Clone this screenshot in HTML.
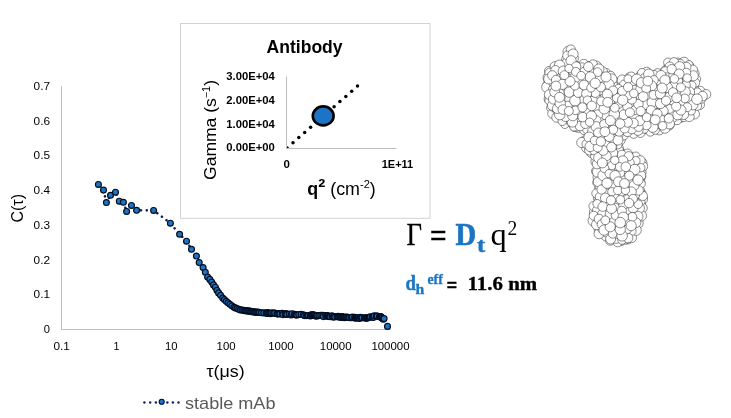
<!DOCTYPE html>
<html lang="en"><head><meta charset="utf-8"><title>DLS antibody figure</title>
<style>
html,body{margin:0;padding:0;background:#fff;}
body{width:731px;height:418px;overflow:hidden;font-family:"Liberation Sans", "DejaVu Sans", sans-serif;}
svg{display:block;will-change:transform;}
text{white-space:pre;}
</style></head><body>
<svg width="731" height="418" viewBox="0 0 731 418">
<rect width="731" height="418" fill="#fff"/>
<line x1="61.5" y1="86.4" x2="61.5" y2="329.5" stroke="#bfbfbf" stroke-width="1"/>
<line x1="61.0" y1="329.5" x2="390.5" y2="329.5" stroke="#bfbfbf" stroke-width="1"/>
<text x="50" y="333.2" font-size="10.9" text-anchor="end" font-weight="normal" fill="#000" font-family='"Liberation Sans", "DejaVu Sans", sans-serif' textLength="6.2" lengthAdjust="spacingAndGlyphs" >0</text>
<text x="50" y="298.4" font-size="10.9" text-anchor="end" font-weight="normal" fill="#000" font-family='"Liberation Sans", "DejaVu Sans", sans-serif' textLength="16.4" lengthAdjust="spacingAndGlyphs" >0.1</text>
<text x="50" y="263.7" font-size="10.9" text-anchor="end" font-weight="normal" fill="#000" font-family='"Liberation Sans", "DejaVu Sans", sans-serif' textLength="16.4" lengthAdjust="spacingAndGlyphs" >0.2</text>
<text x="50" y="228.9" font-size="10.9" text-anchor="end" font-weight="normal" fill="#000" font-family='"Liberation Sans", "DejaVu Sans", sans-serif' textLength="16.4" lengthAdjust="spacingAndGlyphs" >0.3</text>
<text x="50" y="194.2" font-size="10.9" text-anchor="end" font-weight="normal" fill="#000" font-family='"Liberation Sans", "DejaVu Sans", sans-serif' textLength="16.4" lengthAdjust="spacingAndGlyphs" >0.4</text>
<text x="50" y="159.4" font-size="10.9" text-anchor="end" font-weight="normal" fill="#000" font-family='"Liberation Sans", "DejaVu Sans", sans-serif' textLength="16.4" lengthAdjust="spacingAndGlyphs" >0.5</text>
<text x="50" y="124.7" font-size="10.9" text-anchor="end" font-weight="normal" fill="#000" font-family='"Liberation Sans", "DejaVu Sans", sans-serif' textLength="16.4" lengthAdjust="spacingAndGlyphs" >0.6</text>
<text x="50" y="90.0" font-size="10.9" text-anchor="end" font-weight="normal" fill="#000" font-family='"Liberation Sans", "DejaVu Sans", sans-serif' textLength="16.4" lengthAdjust="spacingAndGlyphs" >0.7</text>
<text x="61.7" y="350" font-size="10.6" text-anchor="middle" font-weight="normal" fill="#000" font-family='"Liberation Sans", "DejaVu Sans", sans-serif' textLength="16.4" lengthAdjust="spacingAndGlyphs" >0.1</text>
<text x="116.5" y="350" font-size="10.6" text-anchor="middle" font-weight="normal" fill="#000" font-family='"Liberation Sans", "DejaVu Sans", sans-serif' textLength="6" lengthAdjust="spacingAndGlyphs" >1</text>
<text x="171.3" y="350" font-size="10.6" text-anchor="middle" font-weight="normal" fill="#000" font-family='"Liberation Sans", "DejaVu Sans", sans-serif' textLength="12.6" lengthAdjust="spacingAndGlyphs" >10</text>
<text x="226.1" y="350" font-size="10.6" text-anchor="middle" font-weight="normal" fill="#000" font-family='"Liberation Sans", "DejaVu Sans", sans-serif' textLength="19" lengthAdjust="spacingAndGlyphs" >100</text>
<text x="280.9" y="350" font-size="10.6" text-anchor="middle" font-weight="normal" fill="#000" font-family='"Liberation Sans", "DejaVu Sans", sans-serif' textLength="25.4" lengthAdjust="spacingAndGlyphs" >1000</text>
<text x="335.7" y="350" font-size="10.6" text-anchor="middle" font-weight="normal" fill="#000" font-family='"Liberation Sans", "DejaVu Sans", sans-serif' textLength="31.8" lengthAdjust="spacingAndGlyphs" >10000</text>
<text x="390.5" y="350" font-size="10.6" text-anchor="middle" font-weight="normal" fill="#000" font-family='"Liberation Sans", "DejaVu Sans", sans-serif' textLength="38.2" lengthAdjust="spacingAndGlyphs" >100000</text>
<g transform="translate(23.3,222.6) rotate(-90)">
<text x="0" y="0" font-size="17.4" text-anchor="start" font-weight="normal" fill="#000" font-family='"Liberation Sans", "DejaVu Sans", sans-serif' textLength="28.6" lengthAdjust="spacingAndGlyphs" >C(τ)</text>
</g>
<text x="225.6" y="377.2" font-size="17" text-anchor="middle" font-weight="normal" fill="#000" font-family='"Liberation Sans", "DejaVu Sans", sans-serif' textLength="38.2" lengthAdjust="spacingAndGlyphs" >τ(μs)</text>
<path d="M98.4 184.4 L103.5 190.1 L106.4 202.5 L110.5 195.3 L115.5 192.2 L119.3 201.2 L123.4 202.3 L126.6 211.4 L131.5 205.4 L136.6 210.3 L153.6 210.4 L170.4 223.2 L179.6 234.3 L186.5 241.2 L191.5 249.3 L196.4 256 L199.2 262.6 L203.1 267.6 L205.3 272.3 L207.6 277 L209.8 279.4 L211.7 282.0" fill="none" stroke="#0a2266" stroke-width="2.6" stroke-linecap="round" stroke-dasharray="0.01 5.75" stroke-dashoffset="3.2"/>
<circle cx="98.4" cy="184.4" r="2.95" fill="#1b75c4" stroke="#040c1e" stroke-width="1.15"/>
<circle cx="103.5" cy="190.1" r="2.95" fill="#1b75c4" stroke="#040c1e" stroke-width="1.15"/>
<circle cx="106.4" cy="202.5" r="2.95" fill="#1b75c4" stroke="#040c1e" stroke-width="1.15"/>
<circle cx="110.5" cy="195.3" r="2.95" fill="#1b75c4" stroke="#040c1e" stroke-width="1.15"/>
<circle cx="115.5" cy="192.2" r="2.95" fill="#1b75c4" stroke="#040c1e" stroke-width="1.15"/>
<circle cx="119.3" cy="201.2" r="2.95" fill="#1b75c4" stroke="#040c1e" stroke-width="1.15"/>
<circle cx="123.4" cy="202.3" r="2.95" fill="#1b75c4" stroke="#040c1e" stroke-width="1.15"/>
<circle cx="126.6" cy="211.4" r="2.95" fill="#1b75c4" stroke="#040c1e" stroke-width="1.15"/>
<circle cx="131.5" cy="205.4" r="2.95" fill="#1b75c4" stroke="#040c1e" stroke-width="1.15"/>
<circle cx="136.6" cy="210.3" r="2.95" fill="#1b75c4" stroke="#040c1e" stroke-width="1.15"/>
<circle cx="153.6" cy="210.4" r="2.95" fill="#1b75c4" stroke="#040c1e" stroke-width="1.15"/>
<circle cx="170.4" cy="223.2" r="2.95" fill="#1b75c4" stroke="#040c1e" stroke-width="1.15"/>
<circle cx="179.6" cy="234.3" r="2.95" fill="#1b75c4" stroke="#040c1e" stroke-width="1.15"/>
<circle cx="186.5" cy="241.2" r="2.95" fill="#1b75c4" stroke="#040c1e" stroke-width="1.15"/>
<circle cx="191.5" cy="249.3" r="2.95" fill="#1b75c4" stroke="#040c1e" stroke-width="1.15"/>
<circle cx="196.4" cy="256" r="2.95" fill="#1b75c4" stroke="#040c1e" stroke-width="1.15"/>
<circle cx="199.2" cy="262.6" r="2.95" fill="#1b75c4" stroke="#040c1e" stroke-width="1.15"/>
<circle cx="203.1" cy="267.6" r="2.95" fill="#1b75c4" stroke="#040c1e" stroke-width="1.15"/>
<circle cx="205.3" cy="272.3" r="2.95" fill="#1b75c4" stroke="#040c1e" stroke-width="1.15"/>
<circle cx="207.6" cy="277" r="2.95" fill="#1b75c4" stroke="#040c1e" stroke-width="1.15"/>
<circle cx="209.8" cy="279.4" r="2.95" fill="#1b75c4" stroke="#040c1e" stroke-width="1.15"/>
<circle cx="211.7" cy="282.0" r="2.95" fill="#1b75c4" stroke="#040c1e" stroke-width="1.15"/>
<circle cx="213.5" cy="284.9" r="2.95" fill="#1b75c4" stroke="#040c1e" stroke-width="1.15"/>
<circle cx="215.4" cy="287.2" r="2.95" fill="#1b75c4" stroke="#040c1e" stroke-width="1.15"/>
<circle cx="216.9" cy="290.3" r="2.95" fill="#1b75c4" stroke="#040c1e" stroke-width="1.15"/>
<circle cx="218.6" cy="292.9" r="2.95" fill="#1b75c4" stroke="#040c1e" stroke-width="1.15"/>
<circle cx="220.6" cy="295.3" r="2.95" fill="#1b75c4" stroke="#040c1e" stroke-width="1.15"/>
<circle cx="222.7" cy="298.0" r="2.95" fill="#1b75c4" stroke="#040c1e" stroke-width="1.15"/>
<circle cx="224.4" cy="299.5" r="2.95" fill="#1b75c4" stroke="#040c1e" stroke-width="1.15"/>
<circle cx="226.2" cy="301.3" r="2.95" fill="#1b75c4" stroke="#040c1e" stroke-width="1.15"/>
<circle cx="228.0" cy="302.8" r="2.95" fill="#1b75c4" stroke="#040c1e" stroke-width="1.15"/>
<circle cx="229.9" cy="304.3" r="2.95" fill="#1b75c4" stroke="#040c1e" stroke-width="1.15"/>
<circle cx="231.9" cy="305.8" r="2.95" fill="#1b75c4" stroke="#040c1e" stroke-width="1.15"/>
<circle cx="234.0" cy="307.3" r="2.95" fill="#1b75c4" stroke="#040c1e" stroke-width="1.15"/>
<circle cx="235.4" cy="307.9" r="2.95" fill="#1b75c4" stroke="#040c1e" stroke-width="1.15"/>
<circle cx="237.0" cy="308.5" r="2.95" fill="#1b75c4" stroke="#040c1e" stroke-width="1.15"/>
<circle cx="238.7" cy="309.2" r="2.95" fill="#1b75c4" stroke="#040c1e" stroke-width="1.15"/>
<circle cx="240.3" cy="309.9" r="2.95" fill="#1b75c4" stroke="#040c1e" stroke-width="1.15"/>
<circle cx="242.0" cy="310.1" r="2.95" fill="#1b75c4" stroke="#040c1e" stroke-width="1.15"/>
<circle cx="243.7" cy="310.3" r="2.95" fill="#1b75c4" stroke="#040c1e" stroke-width="1.15"/>
<circle cx="244.7" cy="310.8" r="2.95" fill="#1b75c4" stroke="#040c1e" stroke-width="1.15"/>
<circle cx="245.7" cy="310.5" r="2.95" fill="#1b75c4" stroke="#040c1e" stroke-width="1.15"/>
<circle cx="246.7" cy="311.0" r="2.95" fill="#1b75c4" stroke="#040c1e" stroke-width="1.15"/>
<circle cx="247.7" cy="310.9" r="2.95" fill="#1b75c4" stroke="#040c1e" stroke-width="1.15"/>
<circle cx="248.7" cy="311.0" r="2.95" fill="#1b75c4" stroke="#040c1e" stroke-width="1.15"/>
<circle cx="249.7" cy="311.1" r="2.95" fill="#1b75c4" stroke="#040c1e" stroke-width="1.15"/>
<circle cx="250.7" cy="311.4" r="2.95" fill="#1b75c4" stroke="#040c1e" stroke-width="1.15"/>
<circle cx="251.7" cy="311.8" r="2.95" fill="#1b75c4" stroke="#040c1e" stroke-width="1.15"/>
<circle cx="252.7" cy="311.6" r="2.95" fill="#1b75c4" stroke="#040c1e" stroke-width="1.15"/>
<circle cx="253.7" cy="311.9" r="2.95" fill="#1b75c4" stroke="#040c1e" stroke-width="1.15"/>
<circle cx="254.7" cy="312.1" r="2.95" fill="#1b75c4" stroke="#040c1e" stroke-width="1.15"/>
<circle cx="255.7" cy="312.1" r="2.95" fill="#1b75c4" stroke="#040c1e" stroke-width="1.15"/>
<circle cx="256.7" cy="312.3" r="2.95" fill="#1b75c4" stroke="#040c1e" stroke-width="1.15"/>
<circle cx="257.7" cy="312.1" r="2.95" fill="#1b75c4" stroke="#040c1e" stroke-width="1.15"/>
<circle cx="258.7" cy="312.2" r="2.95" fill="#1b75c4" stroke="#040c1e" stroke-width="1.15"/>
<circle cx="259.6" cy="312.5" r="2.95" fill="#1b75c4" stroke="#040c1e" stroke-width="1.15"/>
<circle cx="261.5" cy="312.8" r="2.95" fill="#1b75c4" stroke="#040c1e" stroke-width="1.15"/>
<circle cx="263.8" cy="312.9" r="2.95" fill="#1b75c4" stroke="#040c1e" stroke-width="1.15"/>
<circle cx="266.1" cy="312.8" r="2.95" fill="#1b75c4" stroke="#040c1e" stroke-width="1.15"/>
<circle cx="267.0" cy="313.5" r="2.95" fill="#1b75c4" stroke="#040c1e" stroke-width="1.15"/>
<circle cx="267.9" cy="312.6" r="2.95" fill="#1b75c4" stroke="#040c1e" stroke-width="1.15"/>
<circle cx="268.9" cy="313.3" r="2.95" fill="#1b75c4" stroke="#040c1e" stroke-width="1.15"/>
<circle cx="270.0" cy="313.6" r="2.95" fill="#1b75c4" stroke="#040c1e" stroke-width="1.15"/>
<circle cx="271.0" cy="313.6" r="2.95" fill="#1b75c4" stroke="#040c1e" stroke-width="1.15"/>
<circle cx="271.7" cy="312.9" r="2.95" fill="#1b75c4" stroke="#040c1e" stroke-width="1.15"/>
<circle cx="273.6" cy="313.1" r="2.95" fill="#1b75c4" stroke="#040c1e" stroke-width="1.15"/>
<circle cx="274.7" cy="313.1" r="2.95" fill="#1b75c4" stroke="#040c1e" stroke-width="1.15"/>
<circle cx="277.0" cy="313.6" r="2.95" fill="#1b75c4" stroke="#040c1e" stroke-width="1.15"/>
<circle cx="277.7" cy="314.1" r="2.95" fill="#1b75c4" stroke="#040c1e" stroke-width="1.15"/>
<circle cx="278.8" cy="313.5" r="2.95" fill="#1b75c4" stroke="#040c1e" stroke-width="1.15"/>
<circle cx="279.9" cy="313.9" r="2.95" fill="#1b75c4" stroke="#040c1e" stroke-width="1.15"/>
<circle cx="282.2" cy="313.3" r="2.95" fill="#1b75c4" stroke="#040c1e" stroke-width="1.15"/>
<circle cx="282.9" cy="314.6" r="2.95" fill="#1b75c4" stroke="#040c1e" stroke-width="1.15"/>
<circle cx="285.2" cy="314.3" r="2.95" fill="#1b75c4" stroke="#040c1e" stroke-width="1.15"/>
<circle cx="285.9" cy="313.5" r="2.95" fill="#1b75c4" stroke="#040c1e" stroke-width="1.15"/>
<circle cx="286.9" cy="314.4" r="2.95" fill="#1b75c4" stroke="#040c1e" stroke-width="1.15"/>
<circle cx="289.2" cy="314.0" r="2.95" fill="#1b75c4" stroke="#040c1e" stroke-width="1.15"/>
<circle cx="291.1" cy="314.9" r="2.95" fill="#1b75c4" stroke="#040c1e" stroke-width="1.15"/>
<circle cx="292.2" cy="313.7" r="2.95" fill="#1b75c4" stroke="#040c1e" stroke-width="1.15"/>
<circle cx="294.5" cy="314.3" r="2.95" fill="#1b75c4" stroke="#040c1e" stroke-width="1.15"/>
<circle cx="295.2" cy="314.6" r="2.95" fill="#1b75c4" stroke="#040c1e" stroke-width="1.15"/>
<circle cx="296.1" cy="315.0" r="2.95" fill="#1b75c4" stroke="#040c1e" stroke-width="1.15"/>
<circle cx="296.9" cy="315.0" r="2.95" fill="#1b75c4" stroke="#040c1e" stroke-width="1.15"/>
<circle cx="298.8" cy="314.6" r="2.95" fill="#1b75c4" stroke="#040c1e" stroke-width="1.15"/>
<circle cx="301.1" cy="314.3" r="2.95" fill="#1b75c4" stroke="#040c1e" stroke-width="1.15"/>
<circle cx="303.4" cy="314.8" r="2.95" fill="#1b75c4" stroke="#040c1e" stroke-width="1.15"/>
<circle cx="304.4" cy="315.6" r="2.95" fill="#1b75c4" stroke="#040c1e" stroke-width="1.15"/>
<circle cx="306.3" cy="315.6" r="2.95" fill="#1b75c4" stroke="#040c1e" stroke-width="1.15"/>
<circle cx="307.3" cy="315.5" r="2.95" fill="#1b75c4" stroke="#040c1e" stroke-width="1.15"/>
<circle cx="308.4" cy="315.5" r="2.95" fill="#1b75c4" stroke="#040c1e" stroke-width="1.15"/>
<circle cx="310.3" cy="316.0" r="2.95" fill="#1b75c4" stroke="#040c1e" stroke-width="1.15"/>
<circle cx="311.1" cy="314.8" r="2.95" fill="#1b75c4" stroke="#040c1e" stroke-width="1.15"/>
<circle cx="311.9" cy="315.0" r="2.95" fill="#1b75c4" stroke="#040c1e" stroke-width="1.15"/>
<circle cx="312.8" cy="314.8" r="2.95" fill="#1b75c4" stroke="#040c1e" stroke-width="1.15"/>
<circle cx="313.6" cy="315.1" r="2.95" fill="#1b75c4" stroke="#040c1e" stroke-width="1.15"/>
<circle cx="314.2" cy="315.0" r="2.95" fill="#1b75c4" stroke="#040c1e" stroke-width="1.15"/>
<circle cx="315.3" cy="315.7" r="2.95" fill="#1b75c4" stroke="#040c1e" stroke-width="1.15"/>
<circle cx="316.4" cy="316.3" r="2.95" fill="#1b75c4" stroke="#040c1e" stroke-width="1.15"/>
<circle cx="317.0" cy="315.6" r="2.95" fill="#1b75c4" stroke="#040c1e" stroke-width="1.15"/>
<circle cx="318.9" cy="315.6" r="2.95" fill="#1b75c4" stroke="#040c1e" stroke-width="1.15"/>
<circle cx="320.8" cy="315.3" r="2.95" fill="#1b75c4" stroke="#040c1e" stroke-width="1.15"/>
<circle cx="322.7" cy="315.3" r="2.95" fill="#1b75c4" stroke="#040c1e" stroke-width="1.15"/>
<circle cx="323.4" cy="316.6" r="2.95" fill="#1b75c4" stroke="#040c1e" stroke-width="1.15"/>
<circle cx="325.7" cy="315.6" r="2.95" fill="#1b75c4" stroke="#040c1e" stroke-width="1.15"/>
<circle cx="326.8" cy="316.3" r="2.95" fill="#1b75c4" stroke="#040c1e" stroke-width="1.15"/>
<circle cx="327.5" cy="315.5" r="2.95" fill="#1b75c4" stroke="#040c1e" stroke-width="1.15"/>
<circle cx="328.3" cy="316.3" r="2.95" fill="#1b75c4" stroke="#040c1e" stroke-width="1.15"/>
<circle cx="329.4" cy="316.4" r="2.95" fill="#1b75c4" stroke="#040c1e" stroke-width="1.15"/>
<circle cx="330.1" cy="316.8" r="2.95" fill="#1b75c4" stroke="#040c1e" stroke-width="1.15"/>
<circle cx="332.0" cy="315.9" r="2.95" fill="#1b75c4" stroke="#040c1e" stroke-width="1.15"/>
<circle cx="333.0" cy="317.1" r="2.95" fill="#1b75c4" stroke="#040c1e" stroke-width="1.15"/>
<circle cx="334.1" cy="316.5" r="2.95" fill="#1b75c4" stroke="#040c1e" stroke-width="1.15"/>
<circle cx="334.8" cy="317.0" r="2.95" fill="#1b75c4" stroke="#040c1e" stroke-width="1.15"/>
<circle cx="337.1" cy="316.6" r="2.95" fill="#1b75c4" stroke="#040c1e" stroke-width="1.15"/>
<circle cx="338.1" cy="316.2" r="2.95" fill="#1b75c4" stroke="#040c1e" stroke-width="1.15"/>
<circle cx="338.8" cy="317.1" r="2.95" fill="#1b75c4" stroke="#040c1e" stroke-width="1.15"/>
<circle cx="339.8" cy="316.8" r="2.95" fill="#1b75c4" stroke="#040c1e" stroke-width="1.15"/>
<circle cx="340.6" cy="316.9" r="2.95" fill="#1b75c4" stroke="#040c1e" stroke-width="1.15"/>
<circle cx="341.5" cy="317.5" r="2.95" fill="#1b75c4" stroke="#040c1e" stroke-width="1.15"/>
<circle cx="342.6" cy="316.5" r="2.95" fill="#1b75c4" stroke="#040c1e" stroke-width="1.15"/>
<circle cx="343.2" cy="317.4" r="2.95" fill="#1b75c4" stroke="#040c1e" stroke-width="1.15"/>
<circle cx="344.2" cy="317.7" r="2.95" fill="#1b75c4" stroke="#040c1e" stroke-width="1.15"/>
<circle cx="344.9" cy="317.4" r="2.95" fill="#1b75c4" stroke="#040c1e" stroke-width="1.15"/>
<circle cx="345.9" cy="317.2" r="2.95" fill="#1b75c4" stroke="#040c1e" stroke-width="1.15"/>
<circle cx="346.7" cy="317.0" r="2.95" fill="#1b75c4" stroke="#040c1e" stroke-width="1.15"/>
<circle cx="347.6" cy="317.3" r="2.95" fill="#1b75c4" stroke="#040c1e" stroke-width="1.15"/>
<circle cx="348.7" cy="317.5" r="2.95" fill="#1b75c4" stroke="#040c1e" stroke-width="1.15"/>
<circle cx="349.6" cy="317.8" r="2.95" fill="#1b75c4" stroke="#040c1e" stroke-width="1.15"/>
<circle cx="351.5" cy="317.8" r="2.95" fill="#1b75c4" stroke="#040c1e" stroke-width="1.15"/>
<circle cx="352.4" cy="317.1" r="2.95" fill="#1b75c4" stroke="#040c1e" stroke-width="1.15"/>
<circle cx="354.7" cy="317.4" r="2.95" fill="#1b75c4" stroke="#040c1e" stroke-width="1.15"/>
<circle cx="355.3" cy="318.3" r="2.95" fill="#1b75c4" stroke="#040c1e" stroke-width="1.15"/>
<circle cx="356.3" cy="317.7" r="2.95" fill="#1b75c4" stroke="#040c1e" stroke-width="1.15"/>
<circle cx="357.2" cy="318.0" r="2.95" fill="#1b75c4" stroke="#040c1e" stroke-width="1.15"/>
<circle cx="358.3" cy="317.7" r="2.95" fill="#1b75c4" stroke="#040c1e" stroke-width="1.15"/>
<circle cx="359.4" cy="318.5" r="2.95" fill="#1b75c4" stroke="#040c1e" stroke-width="1.15"/>
<circle cx="360.5" cy="317.3" r="2.95" fill="#1b75c4" stroke="#040c1e" stroke-width="1.15"/>
<circle cx="361.2" cy="317.6" r="2.95" fill="#1b75c4" stroke="#040c1e" stroke-width="1.15"/>
<circle cx="362.1" cy="317.8" r="2.95" fill="#1b75c4" stroke="#040c1e" stroke-width="1.15"/>
<circle cx="364.4" cy="318.0" r="2.95" fill="#1b75c4" stroke="#040c1e" stroke-width="1.15"/>
<circle cx="365.0" cy="317.7" r="2.95" fill="#1b75c4" stroke="#040c1e" stroke-width="1.15"/>
<circle cx="366.1" cy="318.1" r="2.95" fill="#1b75c4" stroke="#040c1e" stroke-width="1.15"/>
<circle cx="366.8" cy="318.1" r="2.95" fill="#1b75c4" stroke="#040c1e" stroke-width="1.15"/>
<circle cx="367.5" cy="318.1" r="2.95" fill="#1b75c4" stroke="#040c1e" stroke-width="1.15"/>
<circle cx="368.4" cy="317.5" r="2.95" fill="#1b75c4" stroke="#040c1e" stroke-width="1.15"/>
<circle cx="369.2" cy="317.3" r="2.95" fill="#1b75c4" stroke="#040c1e" stroke-width="1.15"/>
<circle cx="370.3" cy="316.8" r="2.95" fill="#1b75c4" stroke="#040c1e" stroke-width="1.15"/>
<circle cx="372.2" cy="317.1" r="2.95" fill="#1b75c4" stroke="#040c1e" stroke-width="1.15"/>
<circle cx="372.9" cy="317.2" r="2.95" fill="#1b75c4" stroke="#040c1e" stroke-width="1.15"/>
<circle cx="373.6" cy="317.3" r="2.95" fill="#1b75c4" stroke="#040c1e" stroke-width="1.15"/>
<circle cx="374.2" cy="315.8" r="2.95" fill="#1b75c4" stroke="#040c1e" stroke-width="1.15"/>
<circle cx="376.4" cy="316.1" r="2.95" fill="#1b75c4" stroke="#040c1e" stroke-width="1.15"/>
<circle cx="377.2" cy="316.1" r="2.95" fill="#1b75c4" stroke="#040c1e" stroke-width="1.15"/>
<circle cx="379.4" cy="316.8" r="2.95" fill="#1b75c4" stroke="#040c1e" stroke-width="1.15"/>
<circle cx="380.5" cy="316.6" r="2.95" fill="#1b75c4" stroke="#040c1e" stroke-width="1.15"/>
<circle cx="381.2" cy="316.8" r="2.95" fill="#1b75c4" stroke="#040c1e" stroke-width="1.15"/>
<circle cx="381.8" cy="317.9" r="2.95" fill="#1b75c4" stroke="#040c1e" stroke-width="1.15"/>
<circle cx="382.5" cy="318.2" r="2.95" fill="#1b75c4" stroke="#040c1e" stroke-width="1.15"/>
<circle cx="383.3" cy="319.3" r="2.95" fill="#1b75c4" stroke="#040c1e" stroke-width="1.15"/>
<circle cx="384.1" cy="318.6" r="2.95" fill="#1b75c4" stroke="#040c1e" stroke-width="1.15"/>
<circle cx="387.5" cy="326.4" r="2.95" fill="#1b75c4" stroke="#040c1e" stroke-width="1.15"/>
<circle cx="144.4" cy="402.5" r="1.2" fill="#0a2266"/>
<circle cx="150.2" cy="402.5" r="1.2" fill="#0a2266"/>
<circle cx="155.9" cy="402.5" r="1.2" fill="#0a2266"/>
<circle cx="167.4" cy="402.5" r="1.2" fill="#0a2266"/>
<circle cx="172.9" cy="402.5" r="1.2" fill="#0a2266"/>
<circle cx="178.5" cy="402.5" r="1.2" fill="#0a2266"/>
<circle cx="161.7" cy="401.7" r="2.55" fill="#1b75c4" stroke="#040c1e" stroke-width="1.05"/>
<text x="185" y="408.7" font-size="16.4" text-anchor="start" font-weight="normal" fill="#595959" font-family='"Liberation Sans", "DejaVu Sans", sans-serif' textLength="90.5" lengthAdjust="spacingAndGlyphs" >stable mAb</text>
<rect x="180.5" y="23.5" width="249.5" height="194.8" fill="#fff" stroke="#d2d2d2" stroke-width="1"/>
<text x="304.6" y="52.6" font-size="18" text-anchor="middle" font-weight="bold" fill="#000" font-family='"Liberation Sans", "DejaVu Sans", sans-serif' textLength="76" lengthAdjust="spacingAndGlyphs" >Antibody</text>
<text x="226.3" y="151.1" font-size="11.4" text-anchor="start" font-weight="bold" fill="#000" font-family='"Liberation Sans", "DejaVu Sans", sans-serif' textLength="48.5" lengthAdjust="spacingAndGlyphs" >0.00E+00</text>
<text x="226.3" y="127.5" font-size="11.4" text-anchor="start" font-weight="bold" fill="#000" font-family='"Liberation Sans", "DejaVu Sans", sans-serif' textLength="48.5" lengthAdjust="spacingAndGlyphs" >1.00E+04</text>
<text x="226.3" y="103.9" font-size="11.4" text-anchor="start" font-weight="bold" fill="#000" font-family='"Liberation Sans", "DejaVu Sans", sans-serif' textLength="48.5" lengthAdjust="spacingAndGlyphs" >2.00E+04</text>
<text x="226.3" y="80.3" font-size="11.4" text-anchor="start" font-weight="bold" fill="#000" font-family='"Liberation Sans", "DejaVu Sans", sans-serif' textLength="48.5" lengthAdjust="spacingAndGlyphs" >3.00E+04</text>
<line x1="286.5" y1="76.5" x2="286.5" y2="148.5" stroke="#bfbfbf" stroke-width="1"/>
<line x1="286" y1="148.5" x2="396.5" y2="148.5" stroke="#bfbfbf" stroke-width="1"/>
<text x="286.7" y="168.2" font-size="11.4" text-anchor="middle" font-weight="bold" fill="#000" font-family='"Liberation Sans", "DejaVu Sans", sans-serif' textLength="6.4" lengthAdjust="spacingAndGlyphs" >0</text>
<text x="397.5" y="168.2" font-size="11.4" text-anchor="middle" font-weight="bold" fill="#000" font-family='"Liberation Sans", "DejaVu Sans", sans-serif' textLength="31.5" lengthAdjust="spacingAndGlyphs" >1E+11</text>
<g transform="translate(216.4,180) rotate(-90)">
<text x="0" y="0" font-size="17" font-family='"Liberation Sans", "DejaVu Sans", sans-serif' fill="#000" textLength="100" lengthAdjust="spacingAndGlyphs">Gamma (s<tspan font-size="10.5" dy="-6.5">−1</tspan><tspan dy="6.5">)</tspan></text>
</g>
<text x="307.3" y="195.4" font-size="18.6" font-family='"Liberation Sans", "DejaVu Sans", sans-serif' fill="#000" textLength="68.5" lengthAdjust="spacingAndGlyphs"><tspan font-weight="bold">q<tspan font-size="22">²</tspan></tspan> (cm<tspan font-size="11.5" dy="-7">-2</tspan><tspan dy="7">)</tspan></text>
<clipPath id="pa"><rect x="287" y="70" width="112" height="78"/></clipPath>
<g clip-path="url(#pa)" fill="#000">
<circle cx="287.1" cy="147.9" r="1.75"/>
<circle cx="293.0" cy="142.8" r="1.75"/>
<circle cx="298.8" cy="137.6" r="1.75"/>
<circle cx="304.7" cy="132.5" r="1.75"/>
<circle cx="310.6" cy="127.3" r="1.75"/>
<circle cx="316.5" cy="122.2" r="1.75"/>
<circle cx="322.3" cy="117.0" r="1.75"/>
<circle cx="328.2" cy="111.8" r="1.75"/>
<circle cx="334.1" cy="106.7" r="1.75"/>
<circle cx="339.9" cy="101.6" r="1.75"/>
<circle cx="345.8" cy="96.4" r="1.75"/>
<circle cx="351.7" cy="91.2" r="1.75"/>
<circle cx="357.5" cy="86.1" r="1.75"/>
</g>
<ellipse cx="323.2" cy="115.9" rx="10.4" ry="9.5" fill="#1b75c4" stroke="#000" stroke-width="2.6"/>
<text x="406.5" y="244.7" font-size="31" text-anchor="start" font-weight="normal" fill="#000" font-family='"Liberation Serif", "DejaVu Serif", serif' textLength="15.5" lengthAdjust="spacingAndGlyphs" stroke="#000" stroke-width="0.3">Γ</text>
<text x="430" y="245.1" font-size="28" text-anchor="start" font-weight="normal" fill="#000" font-family='"Liberation Sans", "DejaVu Sans", sans-serif' textLength="16.5" lengthAdjust="spacingAndGlyphs" stroke="#000" stroke-width="0.3">=</text>
<text x="455.5" y="244.7" font-size="31" text-anchor="start" font-weight="bold" fill="#1b75c4" font-family='"Liberation Serif", "DejaVu Serif", serif' textLength="20.6" lengthAdjust="spacingAndGlyphs" stroke="#1b75c4" stroke-width="0.7">D</text>
<text x="477" y="251.6" font-size="21.5" text-anchor="start" font-weight="bold" fill="#1b75c4" font-family='"Liberation Serif", "DejaVu Serif", serif' textLength="8.2" lengthAdjust="spacingAndGlyphs" stroke="#1b75c4" stroke-width="0.4">t</text>
<text x="490.4" y="244.7" font-size="32" text-anchor="start" font-weight="normal" fill="#000" font-family='"Liberation Serif", "DejaVu Serif", serif' textLength="16.2" lengthAdjust="spacingAndGlyphs" >q</text>
<text x="507.6" y="234.9" font-size="20" text-anchor="start" font-weight="normal" fill="#000" font-family='"Liberation Serif", "DejaVu Serif", serif' textLength="9.8" lengthAdjust="spacingAndGlyphs" >2</text>
<text x="405.6" y="290" font-size="20.6" text-anchor="start" font-weight="bold" fill="#1b75c4" font-family='"Liberation Serif", "DejaVu Serif", serif' textLength="10.4" lengthAdjust="spacingAndGlyphs" stroke="#1b75c4" stroke-width="0.4">d</text>
<text x="415.6" y="293.6" font-size="14" text-anchor="start" font-weight="bold" fill="#1b75c4" font-family='"Liberation Serif", "DejaVu Serif", serif' textLength="8.8" lengthAdjust="spacingAndGlyphs" stroke="#1b75c4" stroke-width="0.3">h</text>
<text x="427.4" y="283.8" font-size="14.4" text-anchor="start" font-weight="bold" fill="#1b75c4" font-family='"Liberation Serif", "DejaVu Serif", serif' textLength="15.4" lengthAdjust="spacingAndGlyphs" stroke="#1b75c4" stroke-width="0.3">eff</text>
<text x="446.8" y="290.5" font-size="17" text-anchor="start" font-weight="bold" fill="#000" font-family='"Liberation Sans", "DejaVu Sans", sans-serif' textLength="10.2" lengthAdjust="spacingAndGlyphs" stroke="#000" stroke-width="0.3">=</text>
<text x="467.6" y="290" font-size="19.2" text-anchor="start" font-weight="bold" fill="#000" font-family='"Liberation Serif", "DejaVu Serif", serif' textLength="69.5" lengthAdjust="spacingAndGlyphs" stroke="#000" stroke-width="0.35">11.6 nm</text>
<g fill="#fff" stroke="#1a1a1a" stroke-width="0.5">
<circle cx="640.8" cy="205.5" r="5.1"/>
<circle cx="548.4" cy="80.7" r="4.4"/>
<circle cx="645.7" cy="129.2" r="4.5"/>
<circle cx="599.2" cy="229.6" r="5.1"/>
<circle cx="629.4" cy="78.1" r="5.2"/>
<circle cx="627.4" cy="239.0" r="5.1"/>
<circle cx="680.8" cy="117.9" r="4.4"/>
<circle cx="640.7" cy="176.4" r="5.1"/>
<circle cx="631.2" cy="157.4" r="4.7"/>
<circle cx="688.7" cy="66.1" r="5.1"/>
<circle cx="549.2" cy="98.9" r="5.1"/>
<circle cx="668.1" cy="66.3" r="4.2"/>
<circle cx="591.2" cy="152.5" r="4.9"/>
<circle cx="578.0" cy="128.0" r="4.4"/>
<circle cx="620.9" cy="240.5" r="5.1"/>
<circle cx="568.2" cy="51.5" r="5.2"/>
<circle cx="621.1" cy="153.5" r="5.1"/>
<circle cx="597.9" cy="177.2" r="4.9"/>
<circle cx="551.2" cy="107.9" r="4.6"/>
<circle cx="641.3" cy="193.6" r="4.8"/>
<circle cx="694.5" cy="73.4" r="4.6"/>
<circle cx="614.1" cy="81.4" r="4.5"/>
<circle cx="599.3" cy="187.6" r="4.4"/>
<circle cx="606.0" cy="73.4" r="5.0"/>
<circle cx="699.6" cy="104.7" r="4.9"/>
<circle cx="620.4" cy="140.1" r="4.9"/>
<circle cx="677.8" cy="62.8" r="4.8"/>
<circle cx="596.0" cy="161.5" r="5.1"/>
<circle cx="586.7" cy="147.8" r="5.1"/>
<circle cx="618.2" cy="148.3" r="5.2"/>
<circle cx="584.8" cy="140.7" r="4.9"/>
<circle cx="583.8" cy="64.2" r="4.9"/>
<circle cx="549.2" cy="71.1" r="4.7"/>
<circle cx="576.3" cy="66.3" r="5.1"/>
<circle cx="638.0" cy="223.3" r="5.2"/>
<circle cx="696.1" cy="79.1" r="4.5"/>
<circle cx="547.9" cy="77.6" r="4.9"/>
<circle cx="641.9" cy="163.0" r="5.1"/>
<circle cx="684.1" cy="62.3" r="5.1"/>
<circle cx="606.0" cy="236.1" r="4.9"/>
<circle cx="566.4" cy="59.2" r="4.7"/>
<circle cx="659.2" cy="129.6" r="5.3"/>
<circle cx="642.7" cy="199.1" r="4.9"/>
<circle cx="573.2" cy="58.4" r="5.2"/>
<circle cx="641.2" cy="172.3" r="4.9"/>
<circle cx="669.2" cy="125.1" r="4.9"/>
<circle cx="677.0" cy="119.8" r="4.9"/>
<circle cx="547.6" cy="85.3" r="4.9"/>
<circle cx="584.3" cy="129.6" r="5.0"/>
<circle cx="683.9" cy="116.5" r="5.0"/>
<circle cx="555.2" cy="66.8" r="5.2"/>
<circle cx="597.6" cy="197.8" r="4.3"/>
<circle cx="633.7" cy="133.9" r="4.5"/>
<circle cx="596.2" cy="171.1" r="4.7"/>
<circle cx="564.9" cy="124.3" r="4.2"/>
<circle cx="657.6" cy="73.2" r="4.6"/>
<circle cx="668.0" cy="62.4" r="4.4"/>
<circle cx="640.6" cy="181.8" r="4.3"/>
<circle cx="665.2" cy="70.7" r="4.7"/>
<circle cx="650.3" cy="131.7" r="4.5"/>
<circle cx="599.1" cy="233.7" r="5.1"/>
<circle cx="631.4" cy="237.6" r="5.1"/>
<circle cx="597.1" cy="182.6" r="4.4"/>
<circle cx="575.1" cy="126.6" r="5.1"/>
<circle cx="617.7" cy="241.9" r="4.9"/>
<circle cx="633.7" cy="176.6" r="4.5"/>
<circle cx="627.5" cy="154.1" r="5.1"/>
<circle cx="596.5" cy="65.6" r="4.6"/>
<circle cx="589.3" cy="66.5" r="4.9"/>
<circle cx="640.4" cy="75.4" r="4.4"/>
<circle cx="699.9" cy="91.5" r="5.3"/>
<circle cx="694.7" cy="114.2" r="4.8"/>
<circle cx="570.8" cy="49.5" r="4.6"/>
<circle cx="640.4" cy="132.9" r="4.6"/>
<circle cx="619.8" cy="87.0" r="4.9"/>
<circle cx="552.4" cy="113.6" r="4.7"/>
<circle cx="613.0" cy="85.9" r="5.0"/>
<circle cx="622.2" cy="80.0" r="5.1"/>
<circle cx="688.8" cy="64.9" r="4.3"/>
<circle cx="706.0" cy="94.3" r="4.8"/>
<circle cx="594.8" cy="156.2" r="4.3"/>
<circle cx="594.6" cy="212.3" r="5.2"/>
<circle cx="693.7" cy="89.8" r="5.1"/>
<circle cx="625.2" cy="239.3" r="4.8"/>
<circle cx="610.2" cy="240.9" r="4.4"/>
<circle cx="636.1" cy="230.2" r="5.2"/>
<circle cx="642.3" cy="208.0" r="5.0"/>
<circle cx="635.9" cy="156.3" r="4.3"/>
<circle cx="610.5" cy="75.8" r="4.5"/>
<circle cx="553.5" cy="107.1" r="4.4"/>
<circle cx="665.0" cy="128.2" r="5.1"/>
<circle cx="692.8" cy="69.7" r="4.7"/>
<circle cx="646.7" cy="71.5" r="4.4"/>
<circle cx="697.3" cy="106.1" r="4.3"/>
<circle cx="602.5" cy="71.8" r="5.1"/>
<circle cx="593.3" cy="220.6" r="5.3"/>
<circle cx="641.2" cy="215.7" r="5.3"/>
<circle cx="599.3" cy="187.9" r="4.2"/>
<circle cx="680.2" cy="63.7" r="4.4"/>
<circle cx="581.9" cy="67.4" r="4.6"/>
<circle cx="623.7" cy="135.5" r="4.5"/>
<circle cx="581.8" cy="142.5" r="5.1"/>
<circle cx="549.2" cy="100.7" r="4.3"/>
<circle cx="618.8" cy="150.7" r="4.8"/>
<circle cx="657.6" cy="108.6" r="4.9"/>
<circle cx="689.2" cy="116.6" r="5.0"/>
<circle cx="571.0" cy="121.9" r="4.8"/>
<circle cx="639.6" cy="190.7" r="5.0"/>
<circle cx="655.2" cy="130.1" r="4.2"/>
<circle cx="613.6" cy="94.3" r="4.2"/>
<circle cx="674.0" cy="62.3" r="4.7"/>
<circle cx="643.0" cy="166.4" r="4.7"/>
<circle cx="679.6" cy="115.1" r="4.4"/>
<circle cx="612.2" cy="126.8" r="5.2"/>
<circle cx="640.4" cy="160.4" r="4.7"/>
<circle cx="596.3" cy="193.4" r="4.5"/>
<circle cx="566.2" cy="77.0" r="4.5"/>
<circle cx="599.0" cy="201.7" r="5.0"/>
<circle cx="550.1" cy="73.3" r="5.2"/>
<circle cx="694.9" cy="82.6" r="4.8"/>
<circle cx="701.5" cy="98.8" r="4.5"/>
<circle cx="566.5" cy="62.7" r="4.6"/>
<circle cx="567.1" cy="55.5" r="4.4"/>
<circle cx="617.6" cy="144.5" r="4.5"/>
<circle cx="631.7" cy="104.6" r="4.6"/>
<circle cx="631.3" cy="76.9" r="4.9"/>
<circle cx="663.0" cy="115.1" r="4.9"/>
<circle cx="611.5" cy="188.7" r="5.3"/>
<circle cx="593.4" cy="206.1" r="4.5"/>
<circle cx="641.0" cy="175.4" r="4.8"/>
<circle cx="618.4" cy="170.3" r="4.3"/>
<circle cx="691.2" cy="110.9" r="4.2"/>
<circle cx="599.6" cy="117.2" r="4.9"/>
<circle cx="573.1" cy="54.0" r="5.1"/>
<circle cx="672.7" cy="118.3" r="4.3"/>
<circle cx="669.8" cy="66.8" r="4.8"/>
<circle cx="640.5" cy="201.5" r="4.5"/>
<circle cx="622.2" cy="198.2" r="4.9"/>
<circle cx="608.1" cy="212.0" r="5.2"/>
<circle cx="557.9" cy="110.9" r="5.0"/>
<circle cx="593.0" cy="64.3" r="4.5"/>
<circle cx="589.4" cy="150.1" r="4.9"/>
<circle cx="685.4" cy="74.8" r="5.1"/>
<circle cx="610.9" cy="180.5" r="4.2"/>
<circle cx="546.9" cy="87.1" r="5.3"/>
<circle cx="556.7" cy="117.4" r="4.9"/>
<circle cx="602.2" cy="227.6" r="5.2"/>
<circle cx="565.4" cy="92.5" r="5.3"/>
<circle cx="604.3" cy="192.8" r="5.1"/>
<circle cx="618.1" cy="134.9" r="5.0"/>
<circle cx="644.3" cy="128.8" r="4.4"/>
<circle cx="656.3" cy="103.1" r="5.1"/>
<circle cx="654.0" cy="75.4" r="5.0"/>
<circle cx="616.3" cy="239.1" r="4.3"/>
<circle cx="637.9" cy="130.1" r="5.3"/>
<circle cx="656.2" cy="124.6" r="4.3"/>
<circle cx="665.3" cy="71.4" r="4.7"/>
<circle cx="590.9" cy="71.6" r="4.4"/>
<circle cx="559.6" cy="65.3" r="5.3"/>
<circle cx="638.6" cy="84.7" r="4.7"/>
<circle cx="597.6" cy="172.0" r="5.3"/>
<circle cx="574.0" cy="126.7" r="4.3"/>
<circle cx="573.4" cy="102.0" r="5.2"/>
<circle cx="610.6" cy="170.0" r="4.3"/>
<circle cx="618.0" cy="203.2" r="4.6"/>
<circle cx="586.6" cy="144.0" r="4.6"/>
<circle cx="621.9" cy="154.9" r="4.7"/>
<circle cx="596.2" cy="98.3" r="5.2"/>
<circle cx="609.0" cy="91.2" r="5.2"/>
<circle cx="645.5" cy="114.4" r="4.8"/>
<circle cx="598.9" cy="69.0" r="5.1"/>
<circle cx="598.1" cy="181.8" r="4.8"/>
<circle cx="606.3" cy="232.5" r="4.5"/>
<circle cx="587.4" cy="128.9" r="5.1"/>
<circle cx="631.7" cy="230.9" r="4.4"/>
<circle cx="642.0" cy="73.1" r="4.6"/>
<circle cx="615.6" cy="176.5" r="5.2"/>
<circle cx="627.4" cy="131.8" r="4.8"/>
<circle cx="620.2" cy="192.0" r="5.1"/>
<circle cx="634.2" cy="201.0" r="5.1"/>
<circle cx="669.4" cy="123.8" r="5.1"/>
<circle cx="581.9" cy="78.2" r="4.5"/>
<circle cx="578.3" cy="83.2" r="5.1"/>
<circle cx="557.6" cy="78.5" r="4.8"/>
<circle cx="553.1" cy="83.2" r="4.2"/>
<circle cx="686.6" cy="81.7" r="4.5"/>
<circle cx="693.3" cy="75.8" r="5.1"/>
<circle cx="612.2" cy="146.8" r="4.7"/>
<circle cx="613.1" cy="139.1" r="5.1"/>
<circle cx="608.0" cy="122.1" r="4.2"/>
<circle cx="642.9" cy="195.9" r="4.6"/>
<circle cx="673.0" cy="103.6" r="4.3"/>
<circle cx="651.6" cy="107.2" r="5.3"/>
<circle cx="590.0" cy="85.2" r="4.7"/>
<circle cx="639.4" cy="208.2" r="5.1"/>
<circle cx="578.2" cy="120.0" r="4.3"/>
<circle cx="640.8" cy="183.8" r="4.5"/>
<circle cx="572.2" cy="71.0" r="4.2"/>
<circle cx="580.0" cy="126.0" r="4.8"/>
<circle cx="596.7" cy="224.6" r="5.2"/>
<circle cx="657.6" cy="113.4" r="4.5"/>
<circle cx="610.0" cy="131.4" r="4.2"/>
<circle cx="669.9" cy="91.4" r="5.0"/>
<circle cx="562.6" cy="99.0" r="5.2"/>
<circle cx="697.3" cy="92.2" r="4.3"/>
<circle cx="597.1" cy="210.4" r="4.7"/>
<circle cx="686.4" cy="66.8" r="4.6"/>
<circle cx="660.5" cy="80.9" r="5.3"/>
<circle cx="611.8" cy="79.1" r="5.2"/>
<circle cx="610.6" cy="239.0" r="5.0"/>
<circle cx="578.6" cy="113.4" r="5.3"/>
<circle cx="593.7" cy="215.7" r="4.5"/>
<circle cx="571.1" cy="60.7" r="5.1"/>
<circle cx="619.6" cy="117.8" r="4.9"/>
<circle cx="622.1" cy="239.9" r="4.4"/>
<circle cx="635.8" cy="160.8" r="4.3"/>
<circle cx="627.4" cy="199.2" r="4.5"/>
<circle cx="672.1" cy="112.1" r="4.4"/>
<circle cx="611.7" cy="107.9" r="4.5"/>
<circle cx="548.8" cy="78.9" r="5.1"/>
<circle cx="624.2" cy="84.8" r="4.8"/>
<circle cx="604.9" cy="203.5" r="5.1"/>
<circle cx="628.1" cy="238.0" r="4.8"/>
<circle cx="624.2" cy="187.6" r="4.7"/>
<circle cx="667.5" cy="78.1" r="5.3"/>
<circle cx="666.4" cy="106.1" r="4.4"/>
<circle cx="562.4" cy="121.2" r="4.3"/>
<circle cx="597.1" cy="164.0" r="4.9"/>
<circle cx="637.9" cy="216.4" r="5.1"/>
<circle cx="618.0" cy="233.2" r="5.3"/>
<circle cx="644.0" cy="78.6" r="4.7"/>
<circle cx="604.4" cy="96.6" r="4.3"/>
<circle cx="555.5" cy="70.2" r="4.7"/>
<circle cx="552.3" cy="105.5" r="4.9"/>
<circle cx="658.5" cy="90.2" r="5.1"/>
<circle cx="584.4" cy="72.2" r="5.0"/>
<circle cx="576.2" cy="66.4" r="4.6"/>
<circle cx="563.2" cy="71.1" r="5.1"/>
<circle cx="578.2" cy="105.9" r="4.6"/>
<circle cx="590.1" cy="107.2" r="4.8"/>
<circle cx="691.8" cy="85.5" r="4.3"/>
<circle cx="602.8" cy="83.0" r="4.5"/>
<circle cx="552.8" cy="89.2" r="4.3"/>
<circle cx="652.5" cy="120.0" r="5.2"/>
<circle cx="640.2" cy="95.5" r="4.8"/>
<circle cx="599.3" cy="90.1" r="5.1"/>
<circle cx="648.8" cy="74.2" r="5.2"/>
<circle cx="549.2" cy="94.6" r="4.8"/>
<circle cx="610.2" cy="100.5" r="4.6"/>
<circle cx="683.6" cy="114.4" r="5.1"/>
<circle cx="689.5" cy="92.0" r="5.1"/>
<circle cx="583.4" cy="99.9" r="4.3"/>
<circle cx="673.8" cy="75.5" r="5.0"/>
<circle cx="613.7" cy="121.0" r="5.2"/>
<circle cx="609.0" cy="159.3" r="4.6"/>
<circle cx="594.2" cy="150.0" r="4.8"/>
<circle cx="631.0" cy="84.6" r="5.0"/>
<circle cx="588.4" cy="66.7" r="4.8"/>
<circle cx="635.0" cy="195.0" r="4.6"/>
<circle cx="683.5" cy="102.2" r="5.1"/>
<circle cx="634.3" cy="90.2" r="4.7"/>
<circle cx="626.7" cy="170.2" r="4.2"/>
<circle cx="629.4" cy="162.7" r="4.9"/>
<circle cx="622.5" cy="109.9" r="4.6"/>
<circle cx="599.7" cy="196.8" r="4.5"/>
<circle cx="640.8" cy="167.7" r="4.2"/>
<circle cx="661.1" cy="119.1" r="4.3"/>
<circle cx="615.3" cy="207.9" r="4.6"/>
<circle cx="553.4" cy="99.1" r="5.0"/>
<circle cx="602.3" cy="214.0" r="4.7"/>
<circle cx="628.7" cy="156.2" r="4.6"/>
<circle cx="618.5" cy="88.6" r="4.3"/>
<circle cx="572.4" cy="121.9" r="5.2"/>
<circle cx="677.7" cy="81.0" r="5.1"/>
<circle cx="648.4" cy="96.3" r="4.8"/>
<circle cx="608.9" cy="84.3" r="5.2"/>
<circle cx="702.6" cy="96.1" r="4.8"/>
<circle cx="559.6" cy="93.5" r="4.8"/>
<circle cx="662.2" cy="98.2" r="4.2"/>
<circle cx="575.0" cy="77.7" r="5.3"/>
<circle cx="623.2" cy="180.1" r="4.3"/>
<circle cx="689.6" cy="98.7" r="5.1"/>
<circle cx="678.2" cy="91.2" r="5.0"/>
<circle cx="596.8" cy="107.1" r="4.9"/>
<circle cx="603.1" cy="175.4" r="5.3"/>
<circle cx="628.2" cy="79.0" r="4.2"/>
<circle cx="612.2" cy="185.0" r="5.1"/>
<circle cx="613.8" cy="196.8" r="5.0"/>
<circle cx="599.0" cy="219.0" r="4.8"/>
<circle cx="563.3" cy="79.0" r="4.8"/>
<circle cx="627.3" cy="209.1" r="5.3"/>
<circle cx="618.9" cy="104.0" r="4.3"/>
<circle cx="565.6" cy="116.4" r="5.1"/>
<circle cx="669.4" cy="97.0" r="4.9"/>
<circle cx="631.8" cy="128.9" r="4.9"/>
<circle cx="634.0" cy="116.3" r="5.2"/>
<circle cx="616.8" cy="97.9" r="4.4"/>
<circle cx="569.5" cy="99.5" r="4.7"/>
<circle cx="636.8" cy="79.3" r="5.3"/>
<circle cx="602.4" cy="137.2" r="4.5"/>
<circle cx="652.8" cy="127.1" r="5.3"/>
<circle cx="567.7" cy="86.1" r="4.8"/>
<circle cx="585.3" cy="123.9" r="4.6"/>
<circle cx="610.2" cy="214.3" r="5.0"/>
<circle cx="662.6" cy="125.8" r="4.3"/>
<circle cx="638.6" cy="190.4" r="4.8"/>
<circle cx="611.8" cy="165.5" r="4.3"/>
<circle cx="627.8" cy="221.2" r="4.9"/>
<circle cx="559.8" cy="114.6" r="5.3"/>
<circle cx="617.9" cy="140.1" r="5.0"/>
<circle cx="661.0" cy="75.6" r="5.1"/>
<circle cx="597.2" cy="203.8" r="4.3"/>
<circle cx="627.2" cy="229.5" r="4.3"/>
<circle cx="633.1" cy="207.8" r="5.1"/>
<circle cx="679.6" cy="66.8" r="5.2"/>
<circle cx="635.9" cy="222.7" r="5.0"/>
<circle cx="601.6" cy="189.5" r="4.7"/>
<circle cx="646.4" cy="125.1" r="4.7"/>
<circle cx="598.9" cy="157.7" r="5.3"/>
<circle cx="629.1" cy="181.6" r="4.2"/>
<circle cx="572.8" cy="115.8" r="5.1"/>
<circle cx="673.5" cy="86.9" r="5.3"/>
<circle cx="693.0" cy="104.9" r="5.0"/>
<circle cx="598.3" cy="78.9" r="4.7"/>
<circle cx="613.6" cy="222.0" r="4.6"/>
<circle cx="677.7" cy="114.9" r="5.0"/>
<circle cx="605.7" cy="145.5" r="5.2"/>
<circle cx="557.3" cy="108.6" r="4.9"/>
<circle cx="686.3" cy="72.6" r="4.4"/>
<circle cx="606.0" cy="76.9" r="5.1"/>
<circle cx="620.2" cy="172.8" r="4.6"/>
<circle cx="567.4" cy="105.9" r="4.7"/>
<circle cx="592.4" cy="131.5" r="4.8"/>
<circle cx="627.5" cy="106.7" r="4.8"/>
<circle cx="616.2" cy="215.2" r="5.0"/>
<circle cx="671.7" cy="69.2" r="4.7"/>
<circle cx="645.1" cy="104.5" r="5.1"/>
<circle cx="667.4" cy="87.4" r="5.1"/>
<circle cx="604.5" cy="168.4" r="4.4"/>
<circle cx="602.0" cy="224.3" r="4.8"/>
<circle cx="593.2" cy="100.4" r="4.3"/>
<circle cx="586.8" cy="112.1" r="4.3"/>
<circle cx="609.2" cy="136.7" r="4.9"/>
<circle cx="609.2" cy="173.7" r="4.2"/>
<circle cx="612.6" cy="153.0" r="5.2"/>
<circle cx="638.2" cy="204.2" r="4.3"/>
<circle cx="605.4" cy="198.0" r="4.9"/>
<circle cx="622.8" cy="160.9" r="5.1"/>
<circle cx="634.7" cy="169.6" r="5.3"/>
<circle cx="634.0" cy="185.5" r="5.0"/>
<circle cx="606.1" cy="115.3" r="4.9"/>
<circle cx="598.0" cy="114.6" r="4.8"/>
<circle cx="589.1" cy="137.2" r="5.2"/>
<circle cx="590.2" cy="146.4" r="5.2"/>
<circle cx="569.0" cy="68.5" r="4.2"/>
<circle cx="582.7" cy="117.1" r="4.8"/>
<circle cx="597.6" cy="72.2" r="4.4"/>
<circle cx="651.9" cy="102.4" r="4.9"/>
<circle cx="552.3" cy="75.4" r="4.7"/>
<circle cx="618.9" cy="131.4" r="4.8"/>
<circle cx="638.0" cy="180.0" r="5.1"/>
<circle cx="604.1" cy="230.1" r="5.2"/>
<circle cx="639.9" cy="89.3" r="4.3"/>
<circle cx="604.3" cy="108.7" r="5.3"/>
<circle cx="612.7" cy="233.8" r="4.4"/>
<circle cx="697.0" cy="99.2" r="5.3"/>
<circle cx="638.6" cy="126.8" r="4.6"/>
<circle cx="624.6" cy="128.4" r="4.6"/>
<circle cx="686.0" cy="84.8" r="4.3"/>
<circle cx="634.9" cy="110.2" r="4.5"/>
<circle cx="596.1" cy="120.5" r="5.0"/>
<circle cx="638.4" cy="104.0" r="4.8"/>
<circle cx="560.2" cy="103.4" r="5.2"/>
<circle cx="596.3" cy="126.8" r="5.2"/>
<circle cx="651.0" cy="110.2" r="4.7"/>
<circle cx="623.4" cy="205.1" r="4.6"/>
<circle cx="668.8" cy="118.4" r="4.6"/>
<circle cx="604.4" cy="124.3" r="4.7"/>
<circle cx="639.6" cy="120.8" r="5.0"/>
<circle cx="569.3" cy="92.1" r="5.2"/>
<circle cx="622.1" cy="235.8" r="5.3"/>
<circle cx="556.1" cy="80.0" r="4.7"/>
<circle cx="632.3" cy="216.9" r="4.5"/>
<circle cx="687.2" cy="107.2" r="4.5"/>
<circle cx="575.0" cy="100.7" r="5.3"/>
<circle cx="607.0" cy="183.2" r="5.2"/>
<circle cx="598.2" cy="132.7" r="4.7"/>
<circle cx="633.4" cy="123.1" r="4.9"/>
<circle cx="627.5" cy="122.2" r="5.0"/>
<circle cx="578.2" cy="92.6" r="4.8"/>
<circle cx="611.9" cy="191.8" r="4.2"/>
<circle cx="680.9" cy="110.1" r="5.1"/>
<circle cx="602.7" cy="206.6" r="4.8"/>
<circle cx="575.9" cy="71.8" r="4.4"/>
<circle cx="631.2" cy="225.7" r="5.1"/>
<circle cx="575.4" cy="110.3" r="4.3"/>
<circle cx="623.7" cy="114.8" r="4.9"/>
<circle cx="615.1" cy="175.7" r="5.2"/>
<circle cx="613.2" cy="129.6" r="4.5"/>
<circle cx="590.3" cy="77.0" r="5.2"/>
<circle cx="613.1" cy="90.6" r="4.6"/>
<circle cx="669.7" cy="108.9" r="4.4"/>
<circle cx="595.3" cy="92.8" r="4.7"/>
<circle cx="586.6" cy="93.6" r="5.0"/>
<circle cx="653.8" cy="80.1" r="4.5"/>
<circle cx="629.3" cy="175.7" r="4.6"/>
<circle cx="631.4" cy="191.8" r="4.9"/>
<circle cx="679.2" cy="73.9" r="4.9"/>
<circle cx="631.9" cy="99.5" r="4.6"/>
<circle cx="646.7" cy="117.3" r="4.4"/>
<circle cx="614.2" cy="114.2" r="5.3"/>
<circle cx="651.7" cy="85.9" r="5.0"/>
<circle cx="617.9" cy="190.3" r="4.4"/>
<circle cx="614.8" cy="160.3" r="4.2"/>
<circle cx="641.5" cy="82.8" r="5.2"/>
<circle cx="618.4" cy="181.7" r="4.9"/>
<circle cx="562.5" cy="84.3" r="5.1"/>
<circle cx="606.4" cy="155.9" r="4.8"/>
<circle cx="628.0" cy="94.9" r="4.9"/>
<circle cx="602.3" cy="162.9" r="5.0"/>
<circle cx="601.2" cy="101.3" r="4.5"/>
<circle cx="663.7" cy="110.9" r="4.5"/>
<circle cx="660.4" cy="103.7" r="5.0"/>
<circle cx="622.3" cy="91.1" r="4.7"/>
<circle cx="587.4" cy="100.1" r="4.2"/>
<circle cx="603.2" cy="150.5" r="4.9"/>
<circle cx="621.8" cy="210.9" r="4.6"/>
<circle cx="676.2" cy="106.4" r="4.6"/>
<circle cx="574.9" cy="85.7" r="4.4"/>
<circle cx="611.5" cy="147.2" r="4.8"/>
<circle cx="646.2" cy="88.5" r="4.5"/>
<circle cx="591.4" cy="116.0" r="5.1"/>
<circle cx="584.0" cy="85.0" r="4.9"/>
<circle cx="597.7" cy="147.5" r="4.5"/>
<circle cx="620.2" cy="229.4" r="5.2"/>
<circle cx="594.6" cy="140.5" r="4.3"/>
<circle cx="633.0" cy="198.7" r="4.4"/>
<circle cx="562.8" cy="109.6" r="4.8"/>
<circle cx="625.4" cy="190.3" r="4.2"/>
<circle cx="672.9" cy="92.3" r="4.6"/>
<circle cx="685.2" cy="91.8" r="5.1"/>
<circle cx="554.7" cy="92.0" r="5.0"/>
<circle cx="623.2" cy="217.3" r="5.2"/>
<circle cx="640.7" cy="111.1" r="4.6"/>
<circle cx="581.1" cy="75.7" r="4.3"/>
<circle cx="647.8" cy="81.1" r="4.9"/>
<circle cx="687.2" cy="78.0" r="4.2"/>
<circle cx="653.5" cy="94.9" r="4.5"/>
<circle cx="660.3" cy="93.7" r="5.0"/>
<circle cx="628.1" cy="87.2" r="4.6"/>
<circle cx="620.2" cy="222.6" r="5.3"/>
<circle cx="614.8" cy="107.8" r="4.4"/>
<circle cx="619.7" cy="166.9" r="4.4"/>
<circle cx="611.5" cy="208.5" r="5.0"/>
<circle cx="607.3" cy="94.3" r="5.1"/>
<circle cx="665.0" cy="80.1" r="5.1"/>
<circle cx="582.5" cy="107.4" r="4.6"/>
<circle cx="568.8" cy="111.0" r="4.5"/>
<circle cx="684.9" cy="98.4" r="4.4"/>
<circle cx="633.8" cy="93.4" r="4.3"/>
<circle cx="555.9" cy="86.0" r="4.9"/>
<circle cx="600.8" cy="87.1" r="4.7"/>
<circle cx="666.0" cy="100.7" r="4.6"/>
<circle cx="620.4" cy="199.7" r="4.3"/>
<circle cx="620.2" cy="123.6" r="4.8"/>
<circle cx="643.2" cy="96.6" r="4.9"/>
<circle cx="589.6" cy="122.2" r="4.2"/>
<circle cx="610.2" cy="226.8" r="5.1"/>
<circle cx="611.0" cy="200.3" r="4.6"/>
<circle cx="570.0" cy="81.3" r="5.0"/>
<circle cx="559.5" cy="97.3" r="5.0"/>
<circle cx="625.8" cy="166.8" r="4.8"/>
<circle cx="564.4" cy="75.1" r="4.4"/>
<circle cx="657.3" cy="113.7" r="4.7"/>
<circle cx="680.9" cy="87.4" r="4.5"/>
<circle cx="624.5" cy="183.5" r="4.9"/>
<circle cx="607.7" cy="102.3" r="4.9"/>
<circle cx="605.3" cy="220.3" r="4.4"/>
<circle cx="591.0" cy="87.8" r="4.3"/>
<circle cx="674.4" cy="78.9" r="4.3"/>
<circle cx="600.8" cy="141.5" r="4.7"/>
<circle cx="662.2" cy="88.0" r="5.0"/>
<circle cx="655.2" cy="119.8" r="4.9"/>
<circle cx="629.1" cy="203.1" r="4.7"/>
<circle cx="622.7" cy="100.1" r="5.2"/>
<circle cx="610.3" cy="120.6" r="5.0"/>
<circle cx="595.2" cy="83.2" r="5.1"/>
<circle cx="591.7" cy="105.9" r="4.8"/>
<circle cx="629.9" cy="112.5" r="4.6"/>
<circle cx="604.9" cy="131.7" r="4.9"/>
<circle cx="676.7" cy="97.8" r="4.9"/>
</g>
</svg>
</body></html>
